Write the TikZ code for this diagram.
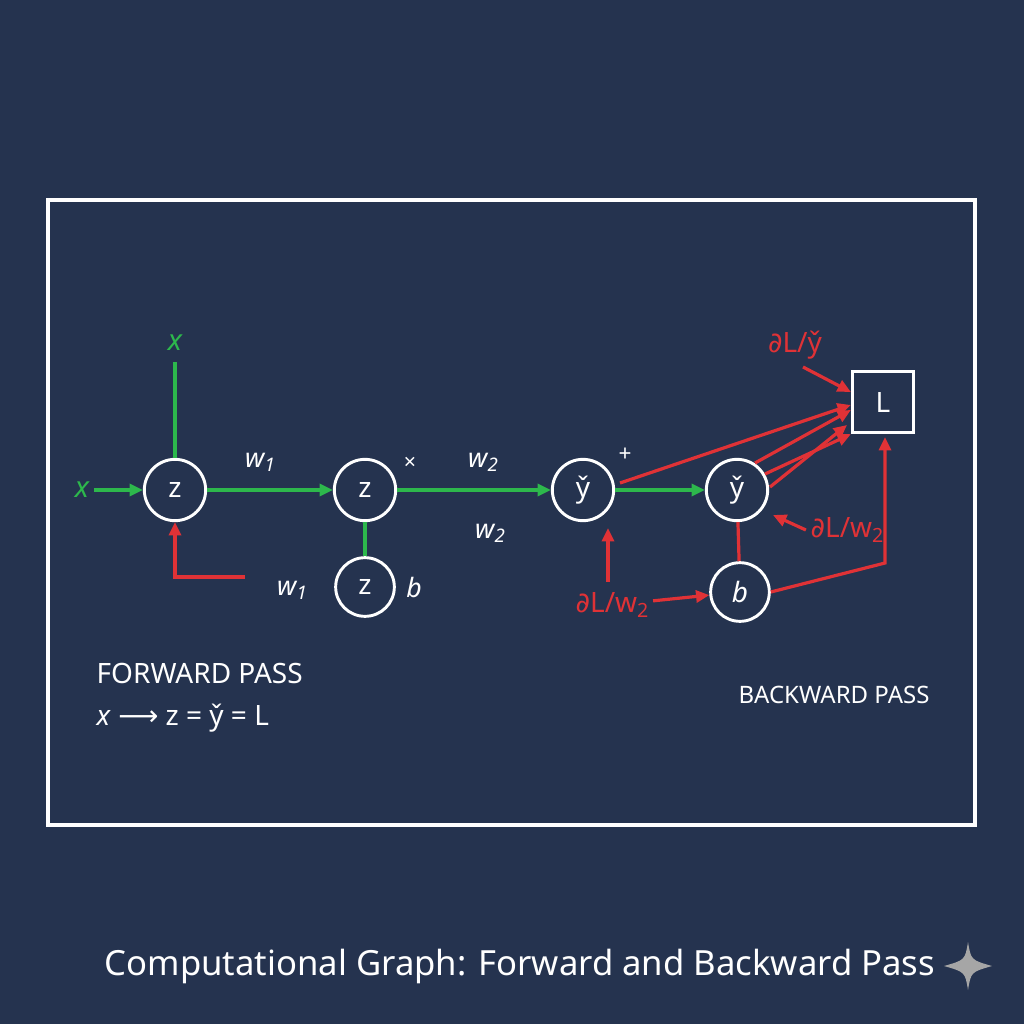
\documentclass[tikz,border=0pt]{standalone}
\usepackage{fontspec}
\setmainfont{Noto Sans}
\newfontfamily\symf{DejaVu Sans}
\usetikzlibrary{arrows.meta}
\definecolor{bg}{HTML}{25334F}
\definecolor{gr}{HTML}{2DB84C}
\definecolor{rd}{HTML}{E03236}
\newcommand{\sbs}[1]{\raisebox{-0.3ex}{\scalebox{0.7}{#1}}}
\tikzset{
 circ/.style={circle,draw=white,line width=2.2pt,minimum size=46pt,inner sep=0,text=white,font=\fontsize{21}{21}\selectfont},
 g/.style={draw=gr,line width=2.4pt},
 r/.style={draw=rd,line width=2.4pt},
 ar/.style={-{Triangle[length=10pt,width=9pt]}},
 lab/.style={text=white,font=\fontsize{20}{20}\selectfont},
 rlab/.style={text=rd,font=\fontsize{21}{21}\selectfont},
}
\begin{document}
\begin{tikzpicture}[x=0.75pt,y=-0.75pt]
\fill[bg] (0,0) rectangle (1024,1024);
\useasboundingbox (0,0) rectangle (1024,1024);
\draw[white,line width=2.4pt] (48,200) rectangle (975,825);
\node[circ] (z1) at (175,490) {z};
\node[circ] (z2) at (365,490) {z};
\node[circ,minimum size=44pt] (z3) at (365,587) {z};
\node[circ] (y1) at (583,490) {y̌};
\node[circ] (y2) at (737,490) {y̌};
\node[circ,minimum size=44pt] (b) at (740,592) {\itshape b};
\node[draw=white,line width=2.2pt,minimum size=46pt,inner sep=0,text=white,font=\fontsize{21}{21}\selectfont] (L) at (883,402) {L};
% green
\node[text=gr,font=\fontsize{22}{22}\selectfont\itshape] (x1) at (82,490) {x};
\node[text=gr,font=\fontsize{22}{22}\selectfont\itshape] (x2) at (175,343) {x};
\draw[g,ar] (x1) -- (z1);
\coordinate (xt) at (175,362);
\draw[g] (xt) -- (z1);
\draw[g,ar] (z1) -- (z2);
\draw[g,ar] (z2) -- (y1);
\draw[g] (z2) -- (z3);
\draw[g,ar] (y1) -- (y2);
\node[lab,font=\fontsize{20}{20}\selectfont\itshape] at (260,462) {w\sbs{1}};
\node[lab,font=\fontsize{20}{20}\selectfont\itshape] at (483,462) {w\sbs{2}};
\node[lab,font=\fontsize{20}{20}\selectfont\itshape] at (490,533) {w\sbs{2}};
\node[lab,font=\fontsize{20}{20}\selectfont\itshape] at (292,590) {w\sbs{1}};
\node[lab,font=\fontsize{20}{20}\selectfont\itshape] at (414,587) {b};
\node[lab,font=\fontsize{16}{16}\selectfont] at (410,463) {×};
\node[lab,font=\fontsize{17}{17}\selectfont] at (625,455) {+};
% red
\draw[r] (y2) -- (b);
\coordinate (c1) at (245,577);
\draw[r,ar] (c1) -- (175,577) -- (z1);
\coordinate (c2) at (608,582);
\draw[r,ar] (c2) -- (608,528);
\node[rlab] (d1) at (612,605) {{\symf∂}L/w\sbs{2}};
\draw[r,ar] (d1) -- (b);
\node[rlab] (d2) at (795,345) {{\symf∂}L/y̌};
\draw[r,ar] (803,367) -- (L.west |- 0,392);
\draw[r,ar] (620,483) -- (L.west |- 0,405);
\draw[r,ar] (755,463) -- (L.west |- 0,410);
\draw[r,ar] (765,474) -- (L.south west);
\draw[r,ar] (770,487) -- (847,425);
\node[rlab] (d3) at (847,530) {{\symf∂}L/w\sbs{2}};
\draw[r,ar] (d3.west) -- (773,515);
\draw[r,ar] (b.east) -- (885,563) -- (885,437);
% texts
\node[lab,anchor=west,font=\fontsize{21}{21}\selectfont] at (92,673) {FORWARD PASS};
\node[lab,anchor=west,font=\fontsize{21}{21}\selectfont] at (92,718) {\textit{x} {\symf⟶} z = y̌ = L};
\node[lab,font=\fontsize{18}{18}\selectfont] at (834,695) {BACKWARD PASS};
\node[lab,font=\fontsize{26}{26}\selectfont] at (520,966) {Computational Graph: Forward and Backward Pass};
\fill[gray!70] (968,942) .. controls (971,960) .. (992,966) .. controls (971,972) .. (968,990) .. controls (965,972) .. (944,966) .. controls (965,960) .. (968,942);
\end{tikzpicture}
\end{document}
